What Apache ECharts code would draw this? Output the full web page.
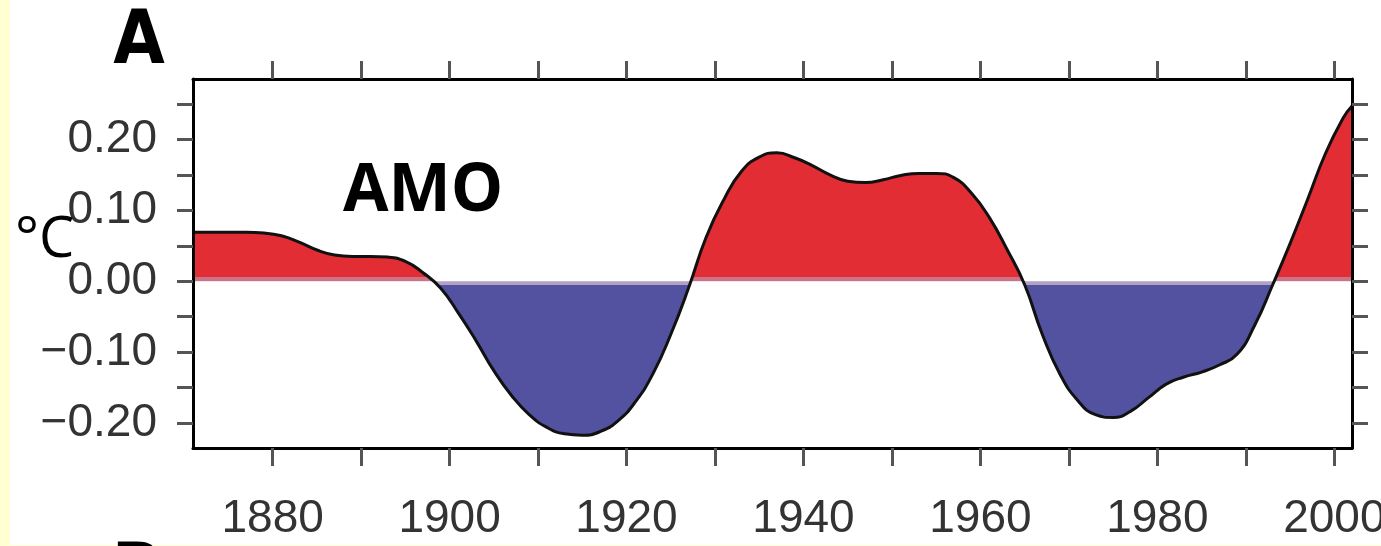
<!DOCTYPE html>
<html>
<head>
<meta charset="utf-8">
<script src="https://cdn.jsdelivr.net/npm/echarts@6/dist/echarts.min.js"></script>
<style>
  html, body { margin: 0; padding: 0; background: #fff; }
  #chart { width: 1381px; height: 546px; }
</style>
</head>
<body>
<div id="chart"></div>
<script>
// AMO index (°C)
const years = [
  1871, 1873, 1875, 1877, 1879, 1881, 1883, 1885, 1887, 1889, 1891, 1893, 1895, 1897, 1899,
  1901, 1903, 1905, 1907, 1909, 1911, 1913, 1915, 1917, 1919, 1921, 1923, 1925, 1927, 1929,
  1931, 1933, 1935, 1937, 1939, 1941, 1943, 1945, 1947, 1949, 1951, 1953, 1955, 1957, 1959,
  1961, 1963, 1965, 1967, 1969, 1971, 1973, 1975, 1977, 1979, 1981, 1983, 1985, 1987, 1989,
  1991, 1993, 1995, 1997, 1999, 2001, 2002
];
const amo = [
  0.069, 0.069, 0.069, 0.069, 0.068, 0.064, 0.055, 0.044, 0.037, 0.035, 0.035, 0.034, 0.028, 0.012, -0.010,
  -0.045, -0.084, -0.126, -0.161, -0.188, -0.206, -0.215, -0.217, -0.212, -0.197, -0.170, -0.130, -0.075, -0.010, 0.062,
  0.115, 0.155, 0.175, 0.181, 0.174, 0.163, 0.150, 0.141, 0.139, 0.143, 0.149, 0.152, 0.152, 0.146, 0.124,
  0.090, 0.045, -0.005, -0.075, -0.131, -0.168, -0.188, -0.192, -0.183, -0.164, -0.145, -0.135, -0.128, -0.118, -0.103,
  -0.062, -0.006, 0.053, 0.116, 0.180, 0.230, 0.247
];

const xTicks = [1880, 1890, 1900, 1910, 1920, 1930, 1940, 1950, 1960, 1970, 1980, 1990, 2000];
const xLabels = [1880, 1900, 1920, 1940, 1960, 1980, 2000];
const yTicks = [-0.20, -0.15, -0.10, -0.05, 0, 0.05, 0.10, 0.15, 0.20, 0.25];
const yLabels = [-0.20, -0.10, 0, 0.10, 0.20];

const tickFont = "'Liberation Sans', Arial, sans-serif";
const RED = '#E22D35';
const BLUE = '#5252A0';

const points = years.map((y, i) => [y, amo[i]]);

const chart = echarts.init(document.getElementById('chart'), null, { renderer: 'canvas' });

const xBase = {
  type: 'value',
  min: 1871,
  max: 2002,
  z: 10,
  splitLine: { show: false },
  axisLine: { show: true, onZero: false, lineStyle: { color: '#000', width: 3 } },
  axisTick: { show: true, length: 18, customValues: xTicks, lineStyle: { color: '#555', width: 3 } }
};
const yBase = {
  type: 'value',
  min: -0.235,
  max: 0.285,
  z: 10,
  splitLine: { show: false },
  axisLine: { show: true, onZero: false, lineStyle: { color: '#000', width: 3 } },
  axisTick: { show: true, length: 16, customValues: yTicks, lineStyle: { color: '#555', width: 3 } }
};

chart.setOption({
  animation: false,
  backgroundColor: '#fff',
  grid: { left: 193, top: 79, width: 1159, height: 369, containLabel: false, outerBoundsMode: 'none' },
  xAxis: [
    Object.assign({}, xBase, {
      position: 'bottom',
      axisLabel: {
        customValues: xLabels,
        margin: 48,
        fontFamily: tickFont,
        fontSize: 46,
        color: '#333',
        hideOverlap: false,
        formatter: (v) => String(v)
      }
    }),
    Object.assign({}, xBase, { position: 'top', axisLabel: { show: false } })
  ],
  yAxis: [
    Object.assign({}, yBase, {
      position: 'left',
      axisLabel: {
        customValues: yLabels,
        margin: 36,
        fontFamily: tickFont,
        fontSize: 46,
        color: '#333',
        formatter: (v) => (v < 0 ? '\u2212' : '') + Math.abs(v).toFixed(2)
      }
    }),
    Object.assign({}, yBase, { position: 'right', axisLabel: { show: false } })
  ],
  visualMap: {
    show: false,
    type: 'piecewise',
    seriesIndex: 0,
    dimension: 1,
    pieces: [
      { gt: 0.0055, color: RED },
      { gt: 0, lte: 0.0055, color: '#CC7385' },
      { gt: -0.0055, lte: 0, color: '#B3A1C3' },
      { lte: -0.0055, color: BLUE }
    ]
  },
  series: [
    {
      name: 'AMO fill',
      type: 'line',
      data: points,
      smooth: 0.5,
      symbol: 'none',
      z: 2,
      lineStyle: { width: 0 },
      areaStyle: { opacity: 1 }
    },
    {
      name: 'AMO',
      type: 'line',
      data: points,
      smooth: 0.5,
      symbol: 'none',
      z: 3,
      lineStyle: { color: '#111', width: 3 }
    }
  ],
  graphic: [
    { type: 'rect', shape: { x: 0, y: 0, width: 10, height: 546 }, style: { fill: '#FFFFD2' }, z: 1 },
    { type: 'rect', shape: { x: 0, y: 545, width: 1381, height: 1 }, style: { fill: '#FFFFD2' }, z: 1 },
    {
      type: 'text', z: 20,
      style: { text: 'A', x: 139, y: 44, align: 'center', verticalAlign: 'middle',
        font: "bold 74px 'DejaVu Sans Condensed', 'Liberation Sans', sans-serif", fill: '#000' }
    },
    {
      type: 'text', z: 20,
      style: { text: 'B', x: 137, y: 577, align: 'center', verticalAlign: 'middle',
        font: "bold 74px 'DejaVu Sans Condensed', 'Liberation Sans', sans-serif", fill: '#000' }
    },
    {
      type: 'text', z: 20,
      style: { text: 'AMO', x: 343, y: 192, align: 'left', verticalAlign: 'middle',
        font: "bold 66px 'Open Sans', sans-serif", fill: '#000' }
    },
    {
      type: 'text', z: 20,
      style: { text: '°C', x: 15, y: 241, align: 'left', verticalAlign: 'middle',
        font: "56px 'Open Sans', sans-serif", fill: '#000' }
    }
  ]
});

window.addEventListener('resize', () => chart.resize());
</script>
</body>
</html>
